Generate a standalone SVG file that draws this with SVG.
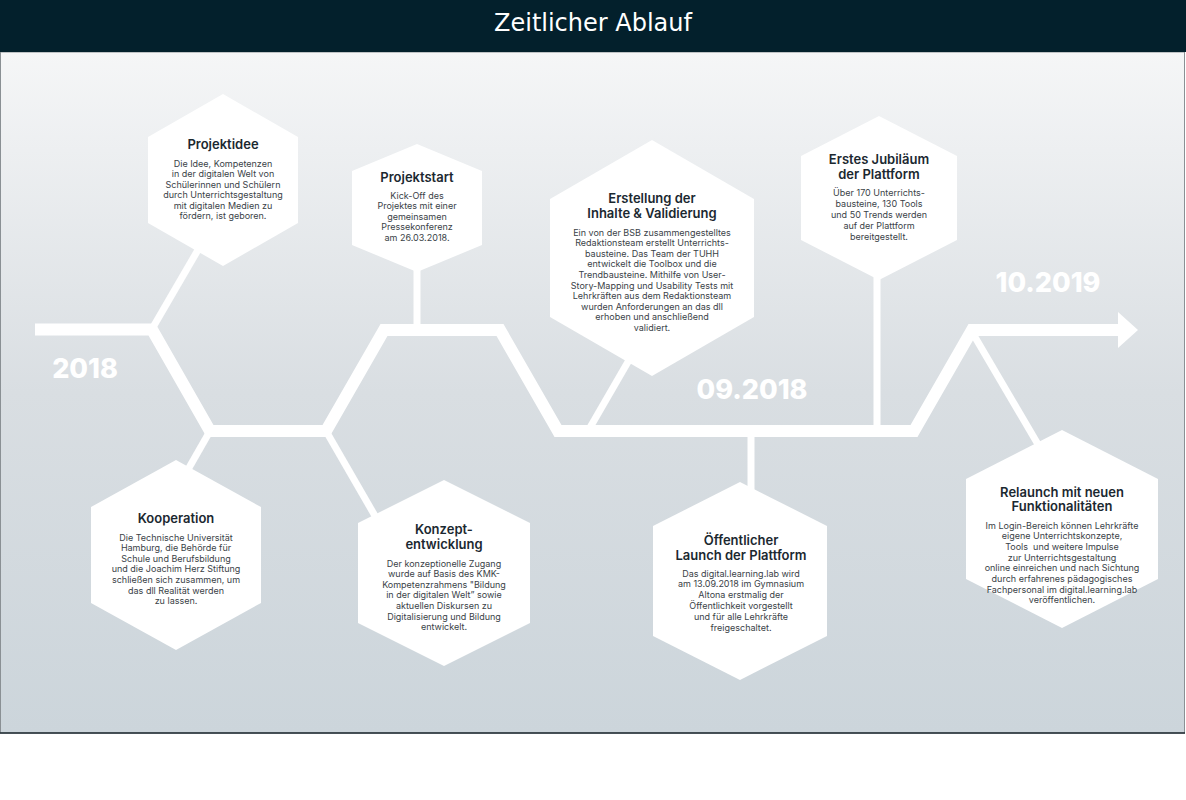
<svg xmlns="http://www.w3.org/2000/svg" width="1186" height="800" viewBox="0 0 1186 800">
  <defs>
    <linearGradient id="panelFill" x1="0" y1="0" x2="0" y2="1">
      <stop offset="0" stop-color="#f5f6f7"/>
      <stop offset="0.5" stop-color="#d9dee2"/>
      <stop offset="1" stop-color="#ccd5db"/>
    </linearGradient>
    <style>
      .hex { fill: #ffffff; }
      .tl { fill: none; stroke: #ffffff; stroke-width: 12; stroke-linejoin: miter; }
      .br { fill: none; stroke: #ffffff; stroke-width: 7; }
      .ttl { font-family: Inter, "Noto Sans", sans-serif; font-weight: 600; font-size: 13px; fill: #1b2830; text-anchor: middle; }
      .txt { font-family: Inter, "Noto Sans", sans-serif; font-weight: 400; font-size: 9px; fill: #3a4247; text-anchor: middle; }
      .yr { font-family: Inter, "Noto Sans", sans-serif; font-weight: 800; font-size: 27px; fill: #ffffff; text-anchor: middle; }
    </style>
  </defs>

  <rect x="0" y="0" width="1186" height="800" fill="#ffffff"/>
  <!-- content panel -->
  <rect x="0.5" y="52" width="1184" height="681" fill="url(#panelFill)" stroke="#8a9094" stroke-width="1"/>
  <line x1="0" y1="733" x2="1185" y2="733" stroke="#1e2a30" stroke-width="1.5"/>

  <!-- header bar -->
  <rect x="0" y="0" width="1186" height="52" fill="#03202c"/>
  <text x="593" y="31" font-family="'DejaVu Sans', sans-serif" font-size="24" fill="#ffffff" text-anchor="middle">Zeitlicher Ablauf</text>

  <!-- year labels -->
  <text class="yr" x="85" y="378">2018</text>
  <text class="yr" x="752" y="399">09.2018</text>
  <text class="yr" x="1048" y="292">10.2019</text>

  <!-- connectors -->
  <g id="connectors">
    <path class="tl" d="M35 329.5 L152 329.5 L210 431 L326 431 L384 330 L500 330 L558 431 L914 431 L972 330 L1120 330"/>
    <polygon points="1118,312 1138,330 1118,348" fill="#ffffff"/>
    <path class="br" d="M152 329 L202 243"/>
    <path class="br" d="M210 431 L182 480"/>
    <path class="br" d="M326 431 L382 528"/>
    <path class="br" d="M417 330 L417 260"/>
    <path class="br" d="M588 431 L636 348"/>
    <path class="br" d="M751 431 L751 495"/>
    <path class="br" d="M877 431 L877 270"/>
    <path class="br" d="M972 332 L1046 458"/>
  </g>

  <g id="projektidee">
    <polygon class="hex" points="223,94 298,137 298,223 223,266 148,223 148,137"/>
    <text class="ttl" x="223" y="149">Projektidee</text>
    <text class="txt" x="223" y="166.5">Die Idee, Kompetenzen</text>
    <text class="txt" x="223" y="177">in der digitalen Welt von</text>
    <text class="txt" x="223" y="187.5">Schülerinnen und Schülern</text>
    <text class="txt" x="223" y="198">durch Unterrichtsgestaltung</text>
    <text class="txt" x="223" y="208.5">mit digitalen Medien zu</text>
    <text class="txt" x="223" y="219">fördern, ist geboren.</text>
  </g>

  <g id="projektstart">
    <polygon class="hex" points="417,144 482,171 482,245 417,272 352,245 352,171"/>
    <text class="ttl" x="417" y="182">Projektstart</text>
    <text class="txt" x="417" y="198.5">Kick-Off des</text>
    <text class="txt" x="417" y="209">Projektes mit einer</text>
    <text class="txt" x="417" y="219.5">gemeinsamen</text>
    <text class="txt" x="417" y="230">Pressekonferenz</text>
    <text class="txt" x="417" y="240.5">am 26.03.2018.</text>
  </g>

  <g id="erstellung">
    <polygon class="hex" points="652,140 754,199 754,317 652,376 550,317 550,199"/>
    <text class="ttl" x="652" y="203">Erstellung der</text>
    <text class="ttl" x="652" y="218">Inhalte &amp; Validierung</text>
    <text class="txt" x="652" y="235.5">Ein von der BSB zusammengestelltes</text>
    <text class="txt" x="652" y="246.1">Redaktionsteam erstellt Unterrichts-</text>
    <text class="txt" x="652" y="256.7">bausteine. Das Team der TUHH</text>
    <text class="txt" x="652" y="267.3">entwickelt die Toolbox und die</text>
    <text class="txt" x="652" y="277.9">Trendbausteine. Mithilfe von User-</text>
    <text class="txt" x="652" y="288.5">Story-Mapping und Usability Tests mit</text>
    <text class="txt" x="652" y="299.1">Lehrkräften aus dem Redaktionsteam</text>
    <text class="txt" x="652" y="309.7">wurden Anforderungen an das dll</text>
    <text class="txt" x="652" y="320.3">erhoben und anschließend</text>
    <text class="txt" x="652" y="330.9">validiert.</text>
  </g>

  <g id="jubilaeum">
    <polygon class="hex" points="879,116 957,156 957,240 879,280 801,240 801,156"/>
    <text class="ttl" x="879" y="164">Erstes Jubiläum</text>
    <text class="ttl" x="879" y="179">der Plattform</text>
    <text class="txt" x="879" y="195.5">Über 170 Unterrichts-</text>
    <text class="txt" x="879" y="206.5">bausteine, 130 Tools</text>
    <text class="txt" x="879" y="217.5">und 50 Trends werden</text>
    <text class="txt" x="879" y="228.5">auf der Plattform</text>
    <text class="txt" x="879" y="239.5">bereitgestellt.</text>
  </g>

  <g id="kooperation">
    <polygon class="hex" points="176,460 261,507 261,603 176,650 91,603 91,507"/>
    <text class="ttl" x="176" y="523">Kooperation</text>
    <text class="txt" x="176" y="540.5">Die Technische Universität</text>
    <text class="txt" x="176" y="551.1">Hamburg, die Behörde für</text>
    <text class="txt" x="176" y="561.7">Schule und Berufsbildung</text>
    <text class="txt" x="176" y="572.3">und die Joachim Herz Stiftung</text>
    <text class="txt" x="176" y="582.9">schließen sich zusammen, um</text>
    <text class="txt" x="176" y="593.5">das dll Realität werden</text>
    <text class="txt" x="176" y="604.1">zu lassen.</text>
  </g>

  <g id="konzeptentwicklung">
    <polygon class="hex" points="444,480 530,523 530,623 444,666 358,623 358,523"/>
    <text class="ttl" x="444" y="534">Konzept-</text>
    <text class="ttl" x="444" y="549">entwicklung</text>
    <text class="txt" x="444" y="566.5">Der konzeptionelle Zugang</text>
    <text class="txt" x="444" y="577.1">wurde auf Basis des KMK-</text>
    <text class="txt" x="444" y="587.7">Kompetenzrahmens "Bildung</text>
    <text class="txt" x="444" y="598.3">in der digitalen Welt” sowie</text>
    <text class="txt" x="444" y="608.9">aktuellen Diskursen zu</text>
    <text class="txt" x="444" y="619.5">Digitalisierung und Bildung</text>
    <text class="txt" x="444" y="630.1">entwickelt.</text>
  </g>

  <g id="launch">
    <polygon class="hex" points="740,482 827,526 827,636 740,680 653,636 653,526"/>
    <text class="ttl" x="741" y="545">Öffentlicher</text>
    <text class="ttl" x="741" y="560">Launch der Plattform</text>
    <text class="txt" x="741" y="576.5">Das digital.learning.lab wird</text>
    <text class="txt" x="741" y="587.4">am 13.09.2018 im Gymnasium</text>
    <text class="txt" x="741" y="598.3">Altona erstmalig der</text>
    <text class="txt" x="741" y="609.2">Öffentlichkeit vorgestellt</text>
    <text class="txt" x="741" y="620.1">und für alle Lehrkräfte</text>
    <text class="txt" x="741" y="631">freigeschaltet.</text>
  </g>

  <g id="relaunch">
    <polygon class="hex" points="1062,430 1158,479 1158,579 1062,628 966,579 966,479"/>
    <text class="ttl" x="1062" y="497">Relaunch mit neuen</text>
    <text class="ttl" x="1062" y="511">Funktionalitäten</text>
    <text class="txt" x="1062" y="528.5">Im Login-Bereich können Lehrkräfte</text>
    <text class="txt" x="1062" y="539.2">eigene Unterrichtskonzepte,</text>
    <text class="txt" x="1062" y="549.9" xml:space="preserve">Tools  und weitere Impulse</text>
    <text class="txt" x="1062" y="560.6">zur Unterrichtsgestaltung</text>
    <text class="txt" x="1062" y="571.3">online einreichen und nach Sichtung</text>
    <text class="txt" x="1062" y="582">durch erfahrenes pädagogisches</text>
    <text class="txt" x="1062" y="592.7">Fachpersonal im digital.learning.lab</text>
    <text class="txt" x="1062" y="603.4">veröffentlichen.</text>
  </g>
</svg>
